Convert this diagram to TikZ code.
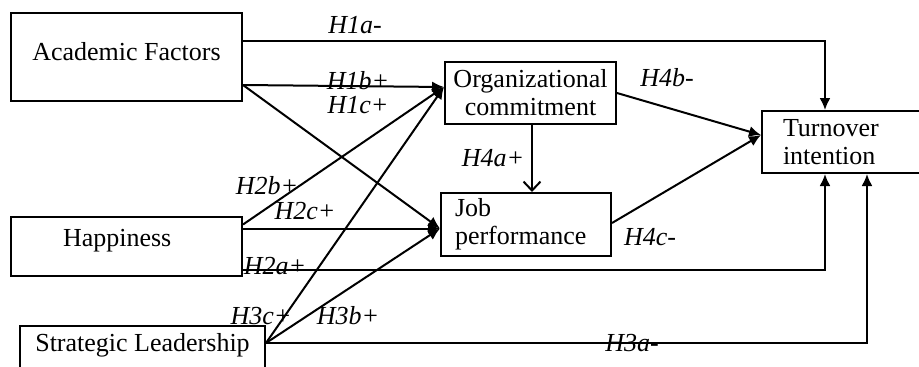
\documentclass[tikz,border=0pt]{standalone}
\usepackage{fontspec}
\setmainfont{Liberation Serif}
\usetikzlibrary{arrows.meta}
\begin{document}
\begin{tikzpicture}
[x=1pt,y=-1pt,
line width=2pt,
every node/.style={font=\fontsize{26}{28}\selectfont},
box/.style={draw,rectangle,inner sep=0pt,align=center},
hyp/.style={font=\fontsize{26}{28}\selectfont\itshape,inner sep=0pt},
arr/.style={-{Latex[length=12pt,width=11pt]}},
barb/.style={-{Straight Barb[length=9pt,width=17pt,line width=2pt]}}
]
\useasboundingbox (0,0) rectangle (919,367);
\node[box,minimum width=231pt,minimum height=88pt,text depth=12pt] (acad) at (126.5,57) {Academic Factors};
\node[box,align=left,text width=127pt,inner xsep=52pt,minimum height=59pt,text depth=18pt] (happy) at (126.5,246.5) {Happiness};
\node[box,minimum width=245pt,minimum height=46pt,text depth=14pt] (strat) at (142.5,349) {Strategic Leadership};
\node[box,minimum width=171pt,minimum height=62pt] (org) at (530.5,93) {Organizational\\commitment};
\node[box,align=left,text width=142pt,inner xsep=14pt,minimum height=63pt] (job) at (526,224.5) {Job\\performance};
\node[box,align=left,text width=127pt,inner xsep=21pt,minimum height=62pt,anchor=west] (turn) at (761,142) {Turnover\\intention};
\draw[arr] ([yshift=16pt]acad.east) -| ([xshift=64pt]turn.north west);
\draw[arr] ([yshift=-28pt]acad.east) -- ([yshift=6pt]org.west);
\draw[arr] ([yshift=-28pt]acad.east) -- ([yshift=-4pt]job.west);
\draw[arr] ([yshift=22pt]happy.east) -- ([yshift=6pt]org.west);
\draw[arr] ([yshift=18pt]happy.east) -- ([yshift=-4pt]job.west);
\draw[arr] ([yshift=-23.5pt]happy.east) -| ([xshift=64pt]turn.south west);
\draw[arr] ([yshift=6pt]strat.east) -- ([yshift=6pt]org.west);
\draw[arr] ([yshift=6pt]strat.east) -- ([yshift=-4pt]job.west);
\draw[arr] ([yshift=6pt]strat.east) -| ([xshift=106pt]turn.south west);
\draw[barb] ([xshift=1.5pt]org.south) -- ([xshift=1.5pt]org.south |- job.north);
\draw[arr] (org.east) -- ([yshift=7pt]turn.west);
\draw[arr] ([yshift=1.5pt]job.east) -- ([yshift=7pt]turn.west);
\node[hyp] (h1a) at (355,25) {H1a-};
\node[hyp] (h1b) at (358,81) {H1b+};
\node[hyp] (h1c) at (358,105) {H1c+};
\node[hyp] (h2b) at (267,186) {H2b+};
\node[hyp] (h2c) at (305,211) {H2c+};
\node[hyp] (h2a) at (275,266) {H2a+};
\node[hyp] (h3c) at (261,316) {H3c+};
\node[hyp] (h3b) at (348,316) {H3b+};
\node[hyp] (h3a) at (632,343) {H3a-};
\node[hyp] (h4a) at (493,158) {H4a+};
\node[hyp] (h4b) at (667,78) {H4b-};
\node[hyp] (h4c) at (650,237) {H4c-};
\end{tikzpicture}
\end{document}
